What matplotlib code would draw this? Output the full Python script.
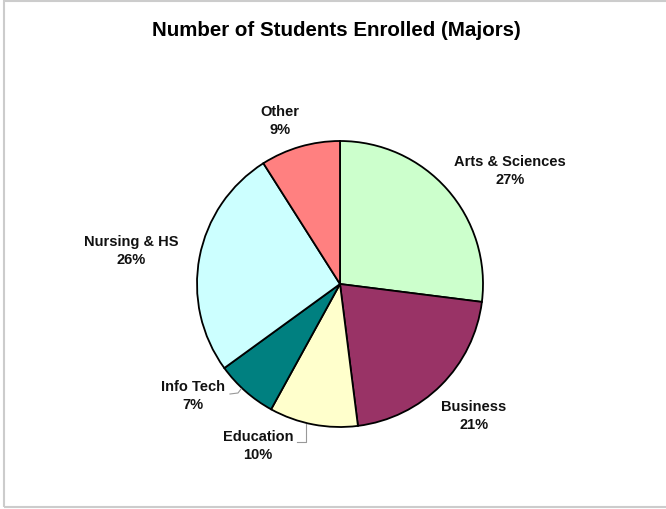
import matplotlib.pyplot as plt
from matplotlib.patches import Rectangle

majors = ['Arts & Sciences', 'Business', 'Education', 'Info Tech', 'Nursing & HS', 'Other']
shares = [27, 21, 10, 7, 26, 9]
colors = ['#CCFFCC', '#993366', '#FFFFCC', '#008080', '#CCFFFF', '#FF8080']

# label anchor points (pixel coords, y measured from top)
label_pos = {
    'Arts & Sciences': (510, 171),
    'Business': (474, 416),
    'Education': (258, 446),
    'Info Tech': (193, 396),
    'Nursing & HS': (131, 251),
    'Other': (280, 121),
}

W, H = 666, 510
plt.rcParams['font.family'] = ['Liberation Sans', 'DejaVu Sans']

fig = plt.figure(figsize=(W / 100, H / 100), dpi=100)
ax = fig.add_axes([0, 0, 1, 1])

# frame around the chart area
ax.add_patch(Rectangle((4, 2), W + 10, H - 4, fill=False, ec='#cccccc', lw=1.5))

ax.pie(shares, colors=colors, startangle=90, counterclock=False,
       center=(340, H - 285), radius=143, frame=True,
       wedgeprops=dict(edgecolor='black', linewidth=1.3))
ax.set_xlim(0, W)
ax.set_ylim(0, H)
ax.set_aspect('equal')
ax.axis('off')

for name, pct in zip(majors, shares):
    x, y = label_pos[name]
    ax.text(x, H - y, f'{name}\n{pct}%', ha='center', va='center',
            fontsize=10.5, fontweight='bold', linespacing=1.45, color='#111111')

# leader lines for the two small slices
ax.plot([230, 238, 241], [H - 395, H - 394, H - 390], color='#999999', lw=0.8)
ax.plot([306, 306, 297], [H - 425, H - 443, H - 443], color='#999999', lw=0.8)

ax.text(336, H - 31, 'Number of Students Enrolled (Majors)', ha='center',
        va='center', fontsize=14.8, fontweight='bold')

fig.savefig('out.png', dpi=100)
